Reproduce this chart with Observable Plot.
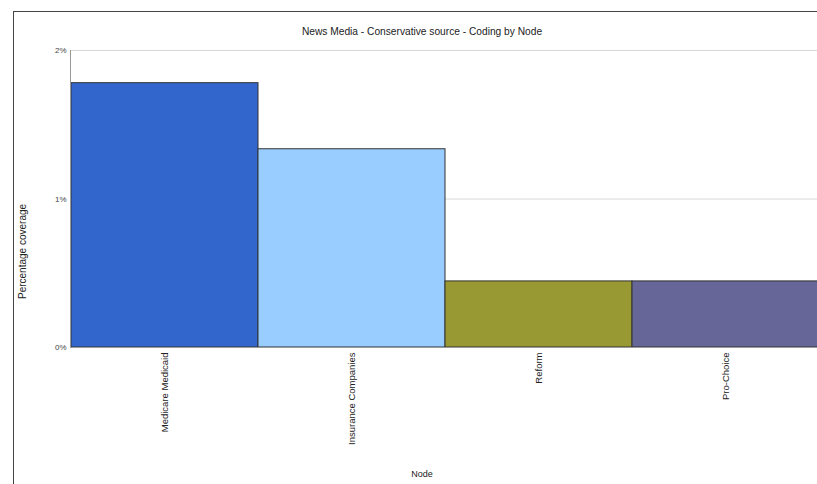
<!DOCTYPE html>
<html>
<head>
<meta charset="utf-8">
<script src="https://cdn.jsdelivr.net/npm/d3@7"></script>
<script src="https://cdn.jsdelivr.net/npm/@observablehq/plot@0.6"></script>
<style>
  html, body { margin: 0; padding: 0; background: #fff; }
  #wrap { position: relative; width: 817px; height: 484px; overflow: hidden; }
  #border { position: absolute; left: 13px; top: 11px; right: -5px; bottom: -5px;
            border-left: 1.5px solid #444; border-top: 1.5px solid #444; pointer-events: none; }
</style>
</head>
<body>
<div id="wrap"><div id="border"></div></div>
<script>
const nodes = ["Medicare Medicaid", "Insurance Companies", "Reform", "Pro-Choice"];
const coverage = [0.0178, 0.01335, 0.00445, 0.00445];
const colors = ["#3366cc", "#99ccff", "#999933", "#666699"];
const yTicks = [0, 0.01, 0.02];
const titleText = "News Media - Conservative source - Coding by Node";
const yLabel = "Percentage coverage";
const xLabel = "Node";

const data = nodes.map((n, i) => ({node: n, value: coverage[i]}));

const chart = Plot.plot({
  width: 817,
  height: 484,
  marginLeft: 70,
  marginRight: -2,
  marginTop: 50,
  marginBottom: 137,
  style: {fontFamily: "Liberation Sans, Arial, sans-serif", fontSize: "9px", color: "#222", background: "transparent", overflow: "hidden"},
  x: {domain: nodes, padding: 0, label: null},
  y: {domain: [0, 0.02], label: null},
  color: {domain: nodes, range: colors},
  marks: [
    Plot.gridY(yTicks, {stroke: "#d8d8d8", strokeOpacity: 1}),
    Plot.barY(data, {x: "node", y: "value", fill: "node", stroke: "#333", strokeWidth: 1, inset: 0}),
    Plot.frame({anchor: "left", stroke: "#999"}),
    Plot.ruleY([0], {stroke: "#999"}),
    Plot.axisY(yTicks, {tickSize: 0, tickPadding: 4, tickFormat: d3.format(".0%"), fontSize: 8, fill: "#444", label: null}),
    Plot.axisX({tickSize: 0, tickPadding: 5, tickRotate: -90, fontSize: 9.5, label: null}),
    Plot.text([titleText], {text: d => d, frameAnchor: "top", dy: -23, dx: -23, fontSize: 10.2, fill: "#222"}),
    Plot.text([yLabel], {text: d => d, frameAnchor: "left", rotate: -90, dx: -48, dy: 100, fontSize: 10, fill: "#222"}),
    Plot.text([xLabel], {text: d => d, frameAnchor: "bottom", dx: -23, dy: 129, fontSize: 9, fill: "#222"})
  ]
});
document.getElementById("wrap").prepend(chart);
</script>
</body>
</html>
